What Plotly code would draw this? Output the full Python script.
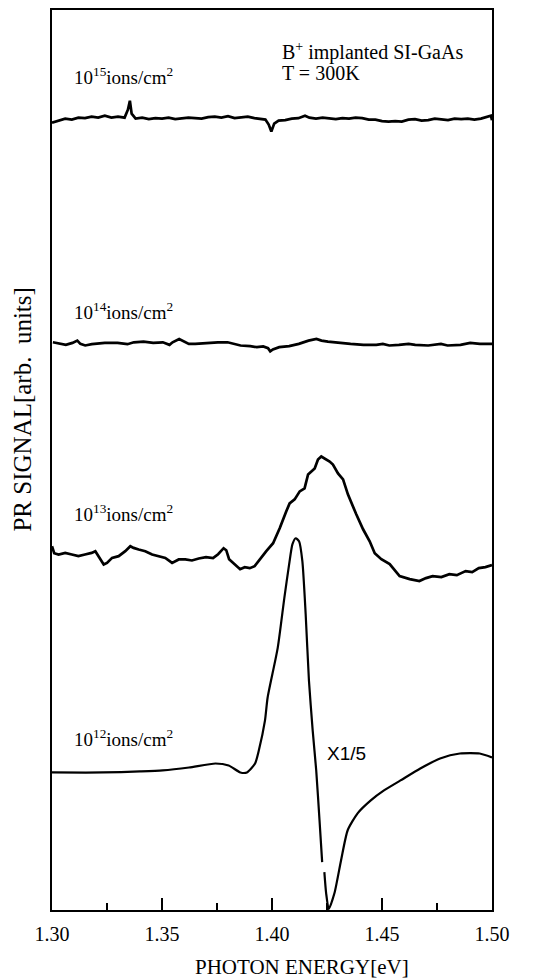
import plotly.graph_objects as go

# photon energy [eV] and PR signal (arb. units, offset per dose)
e15 = [1.300, 1.303, 1.306, 1.309, 1.312, 1.315, 1.318, 1.321, 1.324, 1.327,
       1.330, 1.333, 1.3345, 1.3354, 1.3362, 1.338, 1.341, 1.344, 1.347, 1.350,
       1.353, 1.356, 1.359, 1.362, 1.365, 1.368, 1.371, 1.374, 1.377, 1.380,
       1.383, 1.386, 1.389, 1.392, 1.395, 1.397, 1.3985, 1.3997, 1.401, 1.403,
       1.406, 1.409, 1.412, 1.415, 1.417, 1.420, 1.423, 1.426, 1.429, 1.432,
       1.435, 1.438, 1.441, 1.444, 1.447, 1.450, 1.453, 1.456, 1.459, 1.462,
       1.465, 1.468, 1.471, 1.474, 1.477, 1.480, 1.483, 1.486, 1.489, 1.492,
       1.495, 1.498, 1.4995, 1.500]
s15 = [790, 792, 794, 793, 795, 794.5, 796, 795, 797, 795,
       796, 795, 803, 812, 799, 794, 795, 793.5, 794.5, 794,
       795, 793.5, 794, 795, 794.5, 794, 795.5, 796, 795, 796.5,
       794.5, 795, 796, 794.5, 794, 793, 788, 781, 789, 792,
       792.5, 794, 794.5, 797, 795, 794, 795, 794, 793.5, 794.5,
       794, 795, 794.5, 793, 793, 791.5, 791, 791.5, 791, 793,
       793.5, 792, 792.5, 794, 793.5, 792.5, 794, 793.5, 794, 793,
       794, 795.5, 797, 792.5]

e14 = [1.3004, 1.3034, 1.3063, 1.3093, 1.3115, 1.3129, 1.3151, 1.3181, 1.3240, 1.3298,
       1.3343, 1.3372, 1.3416, 1.3460, 1.3504, 1.3534, 1.3548, 1.3578, 1.3600, 1.3622,
       1.3651, 1.3710, 1.3754, 1.3798, 1.3828, 1.3857, 1.3901, 1.3931, 1.3960, 1.3982,
       1.3992, 1.4004, 1.4033, 1.4078, 1.4122, 1.4166, 1.4202, 1.4225, 1.4254, 1.4298,
       1.4357, 1.4416, 1.4474, 1.4504, 1.4533, 1.4577, 1.4621, 1.4651, 1.4710, 1.4768,
       1.4798, 1.4857, 1.4901, 1.4945, 1.5000]
s14 = [569.6, 568, 567, 569, 571.3, 568, 566.4, 567.7, 569, 569,
       567.7, 569.6, 570.3, 569, 569.6, 567, 569.6, 572.9, 570.3, 568,
       568, 569, 569.6, 569.6, 568, 566.4, 565.7, 564.7, 565.4, 563.7,
       560.5, 562.4, 564.7, 565.7, 568, 571.3, 572.9, 571.3, 570.3, 569,
       568, 567, 567, 568, 566.4, 567, 568, 567, 566.4, 568,
       566.4, 567, 569, 568, 568]

e13 = [1.3000, 1.3010, 1.3030, 1.3060, 1.3090, 1.3120, 1.3150, 1.3180, 1.3197, 1.3220,
       1.3235, 1.3250, 1.3273, 1.3303, 1.3333, 1.3356, 1.3371, 1.3394, 1.3424, 1.3455,
       1.3485, 1.3515, 1.3546, 1.3576, 1.3606, 1.3636, 1.3667, 1.3700, 1.3732, 1.3755,
       1.3780, 1.3792, 1.3805, 1.3825, 1.3855, 1.3876, 1.3899, 1.3921, 1.3944, 1.3974,
       1.4005, 1.4035, 1.4065, 1.4080, 1.4103, 1.4126, 1.4148, 1.4164, 1.4194, 1.4209,
       1.4224, 1.4247, 1.4262, 1.4277, 1.4300, 1.4323, 1.4345, 1.4383, 1.4414, 1.4444,
       1.4467, 1.4497, 1.4535, 1.4580, 1.4626, 1.4670, 1.4700, 1.4730, 1.4770, 1.4806,
       1.4840, 1.4880, 1.4910, 1.4940, 1.4970, 1.5000]
s13 = [365, 358, 356.7, 358.3, 356.7, 355, 356.7, 358.3, 360, 351.7,
       346.7, 348.3, 353.3, 355, 360, 365, 363.3, 361.7, 360, 356.7,
       355, 353.3, 348.3, 351.7, 351.7, 350.7, 352.7, 354, 353, 357,
       363, 361, 352, 348, 342, 344, 343, 345, 352, 360,
       368, 383, 400, 408, 412, 420, 423, 437, 443, 452,
       455, 452, 450, 447, 438, 432, 417, 397, 382, 370,
       358, 352, 347, 335, 332, 330, 333, 335, 334, 337,
       336, 340, 339, 343, 344, 346]

# 10^12 spectrum is shown x1/5; the split marks the small break in the trace
e12a = [1.3000, 1.3233, 1.3400, 1.3503, 1.3623, 1.3743, 1.3803, 1.3856, 1.3886, 1.3923,
        1.3940, 1.3968, 1.3980, 1.4026, 1.4056, 1.4078, 1.4093, 1.4108, 1.4123, 1.4138,
        1.4153, 1.4168, 1.4185, 1.4201, 1.4216, 1.4228]
s12a = [138, 138, 139, 140, 143, 147, 145, 138, 138, 147,
        160, 190, 213, 263, 313, 347, 367, 373, 370, 350,
        297, 230, 180, 140, 90, 48]
e12b = [1.4238, 1.4246, 1.4258, 1.4284, 1.4314, 1.4344, 1.4389, 1.4449, 1.4509, 1.4584,
        1.4674, 1.4764, 1.4854, 1.4944, 1.5000]
s12b = [38, 17, 1, 17, 50, 80, 97, 110, 120, 130,
        142, 152, 157, 157, 153]

dose_labels = ["10<sup>15</sup>ions/cm<sup>2</sup>", "10<sup>14</sup>ions/cm<sup>2</sup>",
               "10<sup>13</sup>ions/cm<sup>2</sup>", "10<sup>12</sup>ions/cm<sup>2</sup>"]
dose_label_y = [837, 601, 398, 173]

serif = "Liberation Serif"

fig = go.Figure()
for xs, ys, w in [(e15, s15, 2.7), (e14, s14, 2.7), (e13, s13, 2.7)]:
    fig.add_trace(go.Scatter(x=xs, y=ys, mode="lines",
                             line=dict(color="black", width=w),
                             showlegend=False, hoverinfo="skip"))
for xs, ys in [(e12a, s12a), (e12b, s12b)]:
    fig.add_trace(go.Scatter(x=xs, y=ys, mode="lines",
                             line=dict(color="black", width=2.2, shape="spline", smoothing=0.6),
                             showlegend=False, hoverinfo="skip"))

for txt, yy in zip(dose_labels, dose_label_y):
    fig.add_annotation(x=1.3091, y=yy, text=txt, showarrow=False,
                       xanchor="left", yanchor="middle",
                       font=dict(family=serif, size=19, color="black"))

fig.add_annotation(x=1.4036, y=861, text="B<sup>+</sup> implanted SI-GaAs",
                   showarrow=False, xanchor="left", yanchor="middle",
                   font=dict(family=serif, size=20, color="black"))
fig.add_annotation(x=1.4036, y=840, text="T = 300K",
                   showarrow=False, xanchor="left", yanchor="middle",
                   font=dict(family=serif, size=20, color="black"))
fig.add_annotation(x=1.4241, y=157, text="X1/5", showarrow=False,
                   xanchor="left", yanchor="middle",
                   font=dict(family="Liberation Sans", size=19, color="black"))

# axis titles
fig.add_annotation(xref="paper", yref="paper", x=0.568, y=-0.063,
                   text="PHOTON ENERGY[eV]", showarrow=False,
                   xanchor="center", yanchor="middle",
                   font=dict(family=serif, size=21, color="black"))
fig.add_annotation(xref="paper", yref="paper", x=-0.066, y=0.556,
                   text="PR SIGNAL[arb.  units]", showarrow=False, textangle=-90,
                   xanchor="center", yanchor="middle",
                   font=dict(family=serif, size=25, color="black"))

# page body adds an 8px offset, so the figure is a bit smaller than the window
fig.update_layout(
    width=532, height=971,
    margin=dict(l=44, r=48, t=0, b=69),
    plot_bgcolor="white", paper_bgcolor="white",
)
fig.update_xaxes(
    range=[1.30, 1.50], tickvals=[1.30, 1.35, 1.40, 1.45, 1.50],
    ticktext=["1.30", "1.35", "1.40", "1.45", "1.50"],
    ticks="inside", ticklen=12, tickwidth=2, tickcolor="black",
    minor=dict(tickvals=[1.325, 1.375, 1.425, 1.475], ticks="inside",
               ticklen=7, tickwidth=1.5, tickcolor="black"),
    ticklabelstandoff=5,
    showline=True, linecolor="black", linewidth=2, mirror=True,
    showgrid=False, zeroline=False,
    tickfont=dict(family=serif, size=20, color="black"),
)
fig.update_yaxes(
    range=[0, 903], showticklabels=False, ticks="",
    showline=True, linecolor="black", linewidth=2, mirror=True,
    showgrid=False, zeroline=False,
)

fig.write_html("out.html")
